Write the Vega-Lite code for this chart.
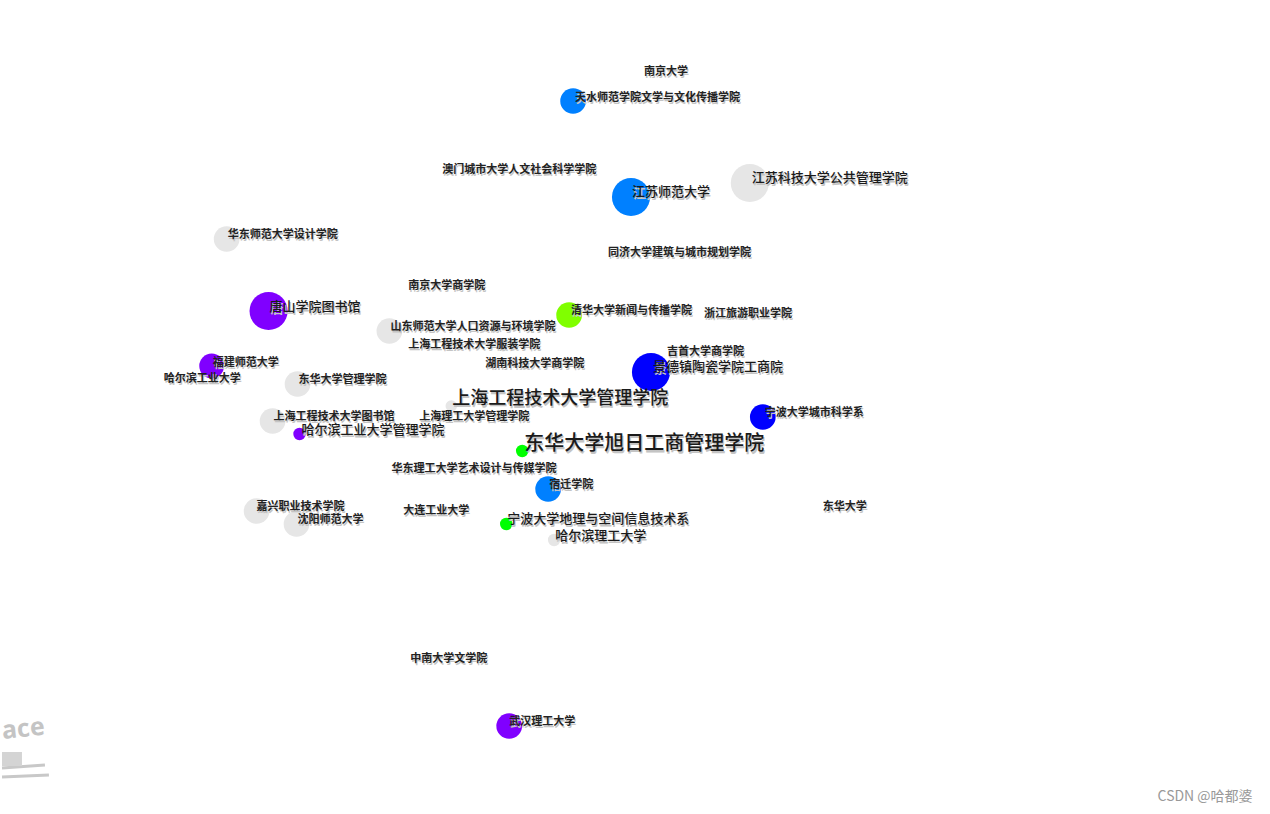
{
  "$schema": "https://vega.github.io/schema/vega-lite/v6.json",
  "width": 1270,
  "height": 814,
  "autosize": {"type": "fit", "contains": "padding"},
  "padding": 0,
  "background": "white",
  "config": {"view": {"stroke": null}, "axis": {"domain": false, "ticks": false, "labels": false, "grid": false, "title": null}},
  "datasets": {
    "nodes": [
      {"name": "天水师范学院文学与文化传播学院", "x": 572, "y": 101, "r": 14.5, "cluster": "c2018", "lx": 574, "ly": 98, "tier": "s"},
      {"name": "南京大学", "r": 0, "cluster": "none", "lx": 643, "ly": 72, "tier": "s"},
      {"name": "澳门城市大学人文社会科学学院", "r": 0, "cluster": "none", "lx": 441, "ly": 170, "tier": "s"},
      {"name": "江苏师范大学", "x": 630, "y": 197, "r": 21.5, "cluster": "c2018", "lx": 631, "ly": 192, "tier": "m"},
      {"name": "江苏科技大学公共管理学院", "x": 749, "y": 183, "r": 21.5, "cluster": "none", "lx": 751, "ly": 178, "tier": "m"},
      {"name": "同济大学建筑与城市规划学院", "r": 0, "cluster": "none", "lx": 607, "ly": 253, "tier": "s"},
      {"name": "华东师范大学设计学院", "x": 225, "y": 239, "r": 14.5, "cluster": "none", "lx": 226, "ly": 235, "tier": "s"},
      {"name": "南京大学商学院", "r": 0, "cluster": "none", "lx": 407, "ly": 286, "tier": "s"},
      {"name": "唐山学院图书馆", "x": 267, "y": 311, "r": 21.5, "cluster": "c2016", "lx": 268, "ly": 307, "tier": "m"},
      {"name": "清华大学新闻与传播学院", "x": 568, "y": 315, "r": 14.5, "cluster": "c2019", "lx": 570, "ly": 311, "tier": "s"},
      {"name": "浙江旅游职业学院", "r": 0, "cluster": "none", "lx": 703, "ly": 314, "tier": "s"},
      {"name": "山东师范大学人口资源与环境学院", "x": 388, "y": 331, "r": 14.5, "cluster": "none", "lx": 389, "ly": 327, "tier": "s"},
      {"name": "上海工程技术大学服装学院", "r": 0, "cluster": "none", "lx": 407, "ly": 345, "tier": "s"},
      {"name": "吉首大学商学院", "r": 0, "cluster": "none", "lx": 666, "ly": 352, "tier": "s"},
      {"name": "景德镇陶瓷学院工商院", "x": 650, "y": 372, "r": 21.5, "cluster": "c2017", "lx": 652, "ly": 367, "tier": "m"},
      {"name": "福建师范大学", "x": 210, "y": 366, "r": 14, "cluster": "c2016", "lx": 211, "ly": 363, "tier": "s"},
      {"name": "哈尔滨工业大学", "r": 0, "cluster": "none", "lx": 162, "ly": 379, "tier": "s"},
      {"name": "湖南科技大学商学院", "r": 0, "cluster": "none", "lx": 484, "ly": 364, "tier": "s"},
      {"name": "东华大学管理学院", "x": 296, "y": 384, "r": 14.5, "cluster": "none", "lx": 297, "ly": 380, "tier": "s"},
      {"name": "上海工程技术大学管理学院", "x": 450, "y": 406, "r": 6.5, "cluster": "none", "lx": 451, "ly": 399, "tier": "l"},
      {"name": "宁波大学城市科学系", "x": 762, "y": 417, "r": 14.5, "cluster": "c2017", "lx": 764, "ly": 413, "tier": "s"},
      {"name": "上海工程技术大学图书馆", "x": 271, "y": 421, "r": 14.5, "cluster": "none", "lx": 272, "ly": 417, "tier": "s"},
      {"name": "上海理工大学管理学院", "r": 0, "cluster": "none", "lx": 418, "ly": 417, "tier": "s"},
      {"name": "哈尔滨工业大学管理学院", "x": 298, "y": 434, "r": 7, "cluster": "c2016", "lx": 300, "ly": 430, "tier": "m"},
      {"name": "东华大学旭日工商管理学院", "x": 521, "y": 451, "r": 7, "cluster": "c2020", "lx": 523, "ly": 444, "tier": "xl"},
      {"name": "华东理工大学艺术设计与传媒学院", "r": 0, "cluster": "none", "lx": 390, "ly": 469, "tier": "s"},
      {"name": "宿迁学院", "x": 547, "y": 489, "r": 14.5, "cluster": "c2018", "lx": 548, "ly": 485, "tier": "s"},
      {"name": "嘉兴职业技术学院", "x": 255, "y": 511, "r": 14.5, "cluster": "none", "lx": 255, "ly": 507, "tier": "s"},
      {"name": "沈阳师范大学", "x": 295, "y": 524, "r": 14.5, "cluster": "none", "lx": 296, "ly": 520, "tier": "s"},
      {"name": "大连工业大学", "r": 0, "cluster": "none", "lx": 402, "ly": 511, "tier": "s"},
      {"name": "宁波大学地理与空间信息技术系", "x": 505, "y": 524, "r": 7, "cluster": "c2020", "lx": 506, "ly": 519, "tier": "m"},
      {"name": "哈尔滨理工大学", "x": 553, "y": 540, "r": 7, "cluster": "none", "lx": 554, "ly": 536, "tier": "m"},
      {"name": "东华大学", "r": 0, "cluster": "none", "lx": 822, "ly": 507, "tier": "s"},
      {"name": "中南大学文学院", "r": 0, "cluster": "none", "lx": 409, "ly": 659, "tier": "s"},
      {"name": "武汉理工大学", "x": 508, "y": 726, "r": 14.5, "cluster": "c2016", "lx": 508, "ly": 722, "tier": "s"}
    ]
  },
  "layer": [
    {
      "data": {"values": [
        {"x": 0, "y": 768, "x2": 43, "y2": 765},
        {"x": 0, "y": 777, "x2": 47, "y2": 775}
      ]},
      "mark": {"type": "rule", "color": "#c8c8c8", "strokeWidth": 3},
      "encoding": {
        "x": {"field": "x", "type": "quantitative", "scale": {"domain": [0, 1270], "nice": false, "zero": false}, "axis": null},
        "y": {"field": "y", "type": "quantitative", "scale": {"domain": [0, 814], "nice": false, "zero": false, "reverse": true}, "axis": null},
        "x2": {"field": "x2"},
        "y2": {"field": "y2"}
      }
    },
    {
      "data": {"values": [{"x": 0, "y": 752, "x2": 20, "y2": 766}]},
      "mark": {"type": "rect", "color": "#d4d4d4"},
      "encoding": {
        "x": {"field": "x", "type": "quantitative", "axis": null},
        "y": {"field": "y", "type": "quantitative", "axis": null},
        "x2": {"field": "x2"},
        "y2": {"field": "y2"}
      }
    },
    {
      "data": {"values": [{"t": "ace", "x": 0, "y": 731}]},
      "mark": {"type": "text", "align": "left", "baseline": "middle", "font": "Open Sans", "fontWeight": "bold", "fontSize": 25, "color": "#c4c4c4", "angle": -6},
      "encoding": {
        "x": {"field": "x", "type": "quantitative", "axis": null},
        "y": {"field": "y", "type": "quantitative", "axis": null},
        "text": {"field": "t"}
      }
    },
    {
      "data": {"values": [{"t": "CSDN @哈都婆", "x": 1205, "y": 797}]},
      "mark": {"type": "text", "align": "center", "baseline": "middle", "font": "Noto Sans CJK SC", "fontSize": 14, "color": "#999999"},
      "encoding": {
        "x": {"field": "x", "type": "quantitative", "axis": null},
        "y": {"field": "y", "type": "quantitative", "axis": null},
        "text": {"field": "t"}
      }
    },
    {
      "data": {"name": "nodes"},
      "transform": [{"filter": "datum.r > 0"}],
      "mark": {"type": "circle", "opacity": 1},
      "encoding": {
        "x": {"field": "x", "type": "quantitative", "axis": null},
        "y": {"field": "y", "type": "quantitative", "axis": null},
        "size": {"field": "r", "type": "quantitative", "scale": {"type": "pow", "exponent": 2, "domain": [0, 30], "range": [0, 2827]}, "legend": null},
        "color": {"field": "cluster", "type": "nominal", "scale": {"domain": ["c2016", "c2017", "c2018", "c2019", "c2020", "none"], "range": ["#8000ff", "#0000ff", "#0080ff", "#80ff00", "#00ff00", "#e6e6e6"]}, "legend": null}
      }
    },
    {
      "data": {"name": "nodes"},
      "mark": {"type": "text", "align": "left", "baseline": "middle", "font": "Noto Sans CJK SC", "fontWeight": "bold", "color": "#c4c4c4", "dx": 1, "dy": 1.5},
      "encoding": {
        "x": {"field": "lx", "type": "quantitative", "axis": null},
        "y": {"field": "ly", "type": "quantitative", "axis": null},
        "text": {"field": "name"},
        "size": {"condition": [{"test": "datum.tier == 'xl'", "value": 20}, {"test": "datum.tier == 'l'", "value": 18}, {"test": "datum.tier == 'm'", "value": 13}], "value": 11}
      }
    },
    {
      "data": {"name": "nodes"},
      "transform": [{"filter": "datum.tier == 's'"}],
      "mark": {"type": "text", "align": "left", "baseline": "middle", "font": "Noto Sans CJK SC", "fontWeight": "bold", "fontSize": 11, "color": "#222222"},
      "encoding": {
        "x": {"field": "lx", "type": "quantitative", "axis": null},
        "y": {"field": "ly", "type": "quantitative", "axis": null},
        "text": {"field": "name"}
      }
    },
    {
      "data": {"name": "nodes"},
      "transform": [{"filter": "datum.tier != 's'"}],
      "mark": {"type": "text", "align": "left", "baseline": "middle", "font": "Noto Sans CJK SC", "fontWeight": 500, "color": "#1a1a1a"},
      "encoding": {
        "x": {"field": "lx", "type": "quantitative", "axis": null},
        "y": {"field": "ly", "type": "quantitative", "axis": null},
        "text": {"field": "name"},
        "size": {"condition": [{"test": "datum.tier == 'xl'", "value": 20}, {"test": "datum.tier == 'l'", "value": 18}], "value": 13}
      }
    }
  ]
}
